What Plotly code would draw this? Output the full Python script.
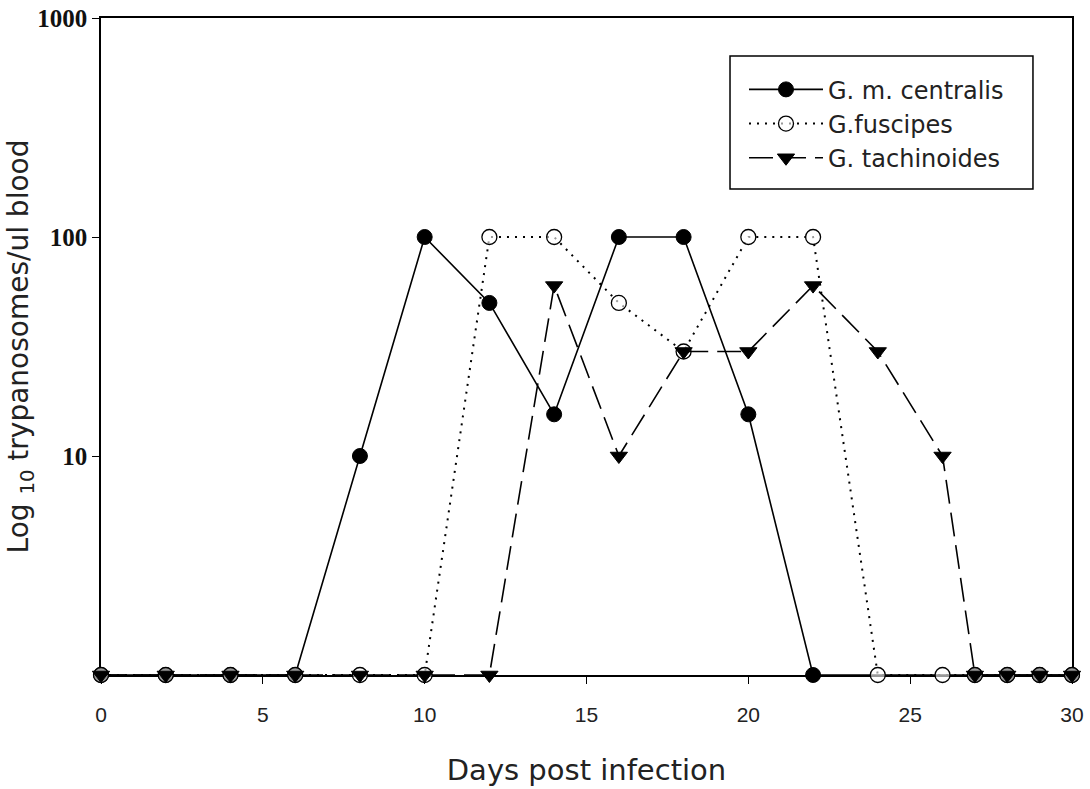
import plotly.graph_objects as go

# Parasitaemia per day post infection for three tsetse species
days_centralis = [0, 2, 4, 6, 8, 10, 12, 14, 16, 18, 20, 22, 27, 28, 29, 30]
centralis = [1, 1, 1, 1, 10, 100, 50, 15.5, 100, 100, 15.5, 1, 1, 1, 1, 1]

days_fuscipes = [0, 2, 4, 6, 8, 10, 12, 14, 16, 18, 20, 22, 24, 26, 27, 28, 29, 30]
fuscipes = [1, 1, 1, 1, 1, 1, 100, 100, 50, 30, 100, 100, 1, 1, 1, 1, 1, 1]

days_tachinoides = [0, 2, 4, 6, 8, 10, 12, 14, 16, 18, 20, 22, 24, 26, 27, 28, 29, 30]
tachinoides = [1, 1, 1, 1, 1, 1, 1, 60, 10, 30, 30, 60, 30, 10, 1, 1, 1, 1]

x_ticks = [0, 5, 10, 15, 20, 25, 30]
y_ticks = [10, 100, 1000]
y_ticktext = ["10", "100", "1000"]

SANS = "DejaVu Sans, Verdana, sans-serif"
ARIAL = "Liberation Sans, Arial, sans-serif"
SERIF = "Liberation Serif, Times New Roman, serif"

fig = go.Figure()

fig.add_trace(go.Scatter(
    x=days_centralis, y=centralis, name="G. m. centralis",
    mode="lines+markers", cliponaxis=False,
    line=dict(color="black", width=1.6, dash="solid"),
    marker=dict(symbol="circle", size=15, color="black",
                line=dict(color="black", width=1)),
))
fig.add_trace(go.Scatter(
    x=days_fuscipes, y=fuscipes, name="G.fuscipes",
    mode="lines+markers", cliponaxis=False,
    line=dict(color="black", width=2, dash="2px,6px"),
    marker=dict(symbol="circle", size=15, color="rgba(255,255,255,0.6)",
                line=dict(color="black", width=1.3)),
))
fig.add_trace(go.Scatter(
    x=days_tachinoides, y=tachinoides, name="G. tachinoides",
    mode="lines+markers", cliponaxis=False,
    line=dict(color="black", width=1.6, dash="24px,9px"),
    marker=dict(symbol="triangle-down", size=15, color="black",
                line=dict(color="black", width=1)),
))

# Legend frame
fig.add_shape(type="rect", xref="paper", yref="paper",
              x0=0.6478, x1=0.9598, y0=0.7397, y1=0.9422,
              line=dict(color="black", width=1.5), fillcolor="rgba(0,0,0,0)",
              layer="above")

fig.update_layout(
    width=1090, height=789,
    margin=dict(l=101, r=18, t=18, b=114),
    paper_bgcolor="white", plot_bgcolor="white",
    showlegend=True,
    legend=dict(
        x=0.6622, y=0.925, xanchor="left", yanchor="top",
        borderwidth=0, bgcolor="rgba(0,0,0,0)",
        font=dict(family=SANS, size=24, color="#222"),
        itemwidth=74,
    ),
    xaxis=dict(
        range=[0, 30], tickvals=x_ticks, automargin=False,
        ticks="outside", ticklen=7, tickwidth=1.3, tickcolor="black",
        showline=True, linecolor="black", linewidth=1.5, mirror=True,
        showgrid=False, zeroline=False, layer="below traces",
        ticklabelstandoff=13,
        tickfont=dict(family=ARIAL, size=21, color="#222"),
        title=dict(text="Days post infection", standoff=35,
                   font=dict(family=SANS, size=29, color="#222")),
    ),
    yaxis=dict(
        type="log", range=[0, 3], tickvals=y_ticks, ticktext=y_ticktext,
        automargin=False,
        ticks="outside", ticklen=7, tickwidth=1.3, tickcolor="black",
        showline=True, linecolor="black", linewidth=1.5, mirror=True,
        showgrid=False, zeroline=False, layer="below traces",
        tickfont=dict(family=SERIF, size=25, color="#111", weight="bold"),
        title=dict(text="Log <sub>10</sub> trypanosomes/ul blood", standoff=0,
                   font=dict(family=SANS, size=28, color="#222")),
    ),
)

fig.write_html("out.html")
